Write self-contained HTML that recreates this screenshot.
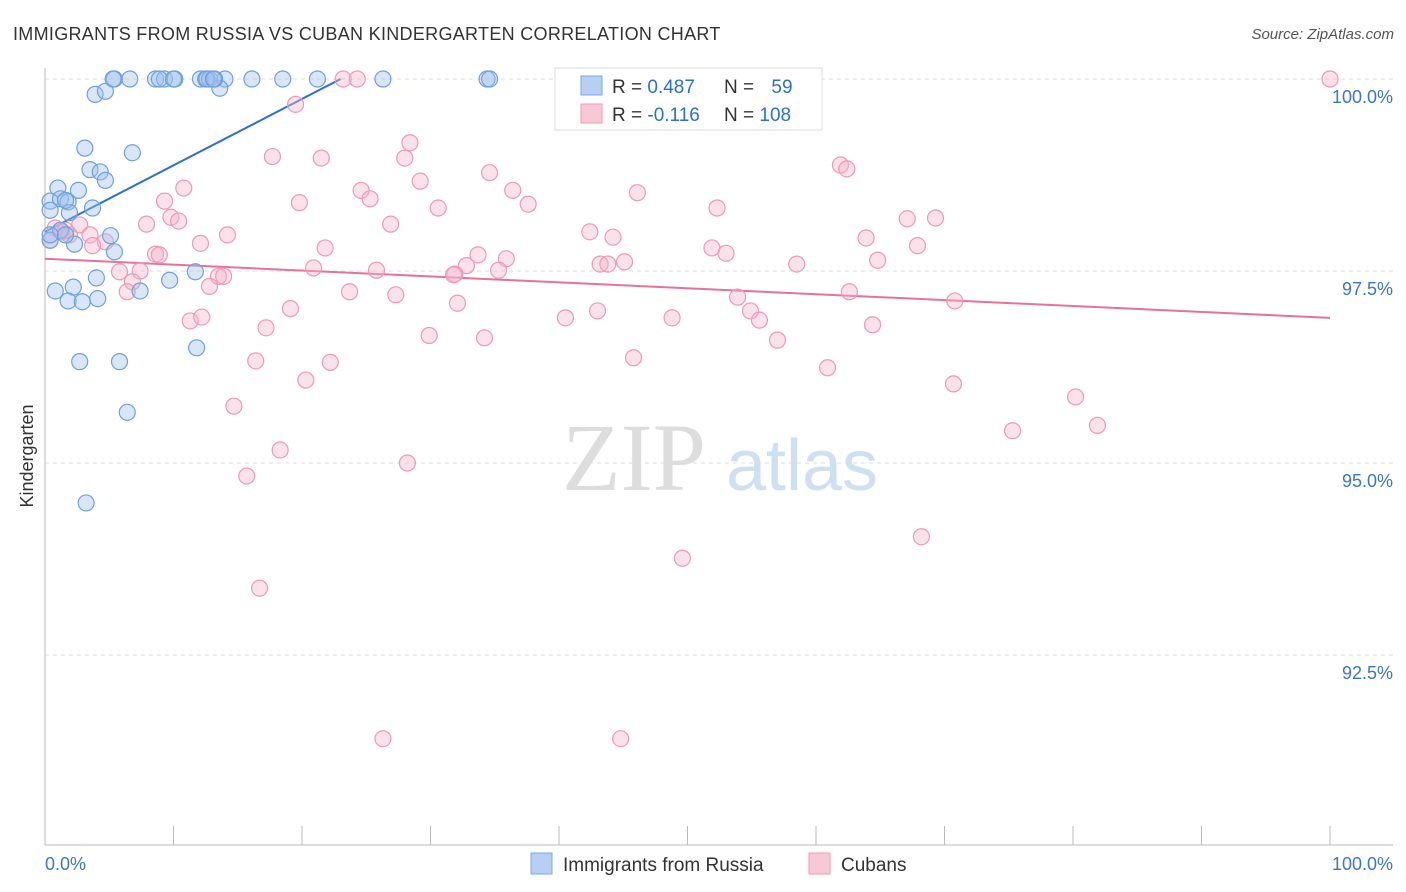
<!DOCTYPE html>
<html><head><meta charset="utf-8">
<style>
body{margin:0;background:#fff;font-family:"Liberation Sans",sans-serif;}
svg{display:block}
</style></head>
<body>
<svg id="chart" width="1406" height="892" viewBox="0 0 1406 892">
<text x="13" y="40" font-size="18" letter-spacing="0.3" fill="#333">IMMIGRANTS FROM RUSSIA VS CUBAN KINDERGARTEN CORRELATION CHART</text>
<text x="1394" y="39" font-size="15" fill="#555" font-style="italic" text-anchor="end">Source: ZipAtlas.com</text>
<text x="0" y="0" transform="translate(33,456) rotate(-90)" font-size="18" fill="#333" text-anchor="middle">Kindergarten</text>
<g>
<text x="634" y="490" font-size="96" fill="#ddd" font-family="Liberation Serif,serif" text-anchor="middle">ZIP</text>
<text x="802" y="490" font-size="72" fill="#cfe0f3" text-anchor="middle">atlas</text>
</g>
<g id="grid"></g>
<g id="axes"></g>
<g id="lines"></g>
<g id="points"></g>
<g>
<rect x="555" y="68" width="267" height="62" fill="#fff" stroke="#ddd"/>
<rect x="581" y="76" width="21" height="19" fill="#b5d0f3" stroke="#7aaae6"/>
<rect x="581" y="104" width="21" height="19" fill="#f9c8d7" stroke="#ec9ab5"/>
<text x="612" y="93" font-size="19" fill="#333">R = <tspan fill="#2a6fd6">0.487</tspan></text>
<text x="724" y="93" font-size="19" fill="#333">N = <tspan fill="#2a6fd6" dx="12">59</tspan></text>
<text x="612" y="121" font-size="19" fill="#333">R = <tspan fill="#2a6fd6">-0.116</tspan></text>
<text x="724" y="121" font-size="19" fill="#333">N = <tspan fill="#2a6fd6">108</tspan></text>
</g>
<g>
<rect x="531" y="853" width="21" height="21" fill="#b5d0f3" stroke="#7aaae6"/>
<text x="563" y="871" font-size="19" fill="#333">Immigrants from Russia</text>
<rect x="809" y="853" width="21" height="21" fill="#f9c8d7" stroke="#ec9ab5"/>
<text x="841" y="871" font-size="19" fill="#333">Cubans</text>
</g>
</svg>
<script>
const yTicks=[100,97.5,95,92.5];
const yTickLabels=["100.0%","97.5%","95.0%","92.5%"];
const xTickCount=[0,10,20,30,40,50,60,70,80,90,100];
const xLabels=["0.0%","100.0%"];
const russiaX=[5.4,6.6,8.6,9.3,10.1,12.1,12.5,12.8,14.0,16.1,18.5,21.2,26.3,34.4,34.6,3.9,4.7,13.6,3.1,6.8,3.5,4.3,4.7,1.0,2.6,0.4,1.2,1.8,3.7,1.9,5.1,0.4,2.3,5.4,11.7,4.0,9.7,0.8,2.2,7.4,1.8,2.9,4.1,2.7,5.8,11.8,6.4,3.2,1.2,0.4,1.6,5.3,8.9,12.6,13.2,13.1,0.4,1.6,10.0];
const russiaY=[100,100,100,100,100,100,100,100,100,100,100,100,100,100,100,99.80,99.84,99.88,99.10,99.04,98.82,98.79,98.68,98.58,98.55,98.41,98.44,98.40,98.32,98.26,97.96,97.90,97.85,97.75,97.49,97.41,97.38,97.24,97.29,97.24,97.11,97.10,97.14,96.32,96.32,96.50,95.66,94.48,98.03,97.97,97.97,100,100,100,100,100,98.29,98.42,100];
const cubaX=[100,23.2,24.3,19.5,28.4,17.7,21.5,28.0,61.9,62.4,34.6,29.2,10.8,36.4,24.6,46.1,9.3,19.8,25.3,37.6,30.6,52.3,9.8,10.4,7.9,26.9,67.1,69.3,2.7,0.8,1.3,3.5,14.2,42.4,44.2,63.9,4.7,3.7,12.1,21.8,51.9,67.9,53.0,8.6,8.9,33.7,35.9,64.8,43.2,45.1,43.8,32.8,58.5,20.9,25.8,31.9,35.3,5.8,7.4,13.5,13.9,31.8,6.8,12.8,6.4,23.7,27.3,53.9,62.6,70.8,32.1,19.1,43.0,40.5,54.9,55.6,11.3,12.2,48.8,64.4,17.2,29.9,34.2,57.0,45.8,16.4,22.2,60.9,20.3,70.7,80.2,14.7,81.9,75.3,18.3,28.2,15.7,68.2,49.6,16.7,26.3,44.8,0.4,1.9,1.6];
const cubaY=[100,100,100,99.67,99.17,98.99,98.97,98.97,98.88,98.83,98.78,98.67,98.58,98.55,98.55,98.52,98.41,98.39,98.44,98.37,98.32,98.32,98.20,98.15,98.11,98.11,98.18,98.19,98.10,98.06,98.01,97.97,97.97,98.01,97.94,97.93,97.88,97.83,97.86,97.80,97.80,97.83,97.73,97.72,97.71,97.71,97.66,97.64,97.59,97.62,97.59,97.57,97.59,97.54,97.51,97.46,97.51,97.49,97.50,97.43,97.43,97.45,97.36,97.30,97.23,97.23,97.19,97.16,97.23,97.11,97.08,97.01,96.98,96.89,96.98,96.86,96.85,96.90,96.89,96.80,96.76,96.66,96.63,96.60,96.37,96.33,96.31,96.24,96.08,96.03,95.86,95.74,95.49,95.42,95.17,95.00,94.83,94.04,93.76,93.37,91.41,91.41,97.90,97.97,98.03];
const russiaTrendX=[0,23];
const russiaTrendY=[98.01,100];
const cubaTrendX=[0,100];
const cubaTrendY=[97.66,96.89];

const NS="http://www.w3.org/2000/svg";
const X=v=>45+v*12.85;
const Y=v=>79+(100-v)*76.8;
function mk(tag,attrs,parent){const e=document.createElementNS(NS,tag);for(const k in attrs)e.setAttribute(k,attrs[k]);parent.appendChild(e);return e;}
const grid=document.getElementById('grid'),axes=document.getElementById('axes'),lines=document.getElementById('lines'),pts=document.getElementById('points');
yTicks.forEach((t,i)=>{
 const l=mk('line',{x1:45,x2:1393,y1:Y(t),y2:Y(t),stroke:'#ddd','stroke-dasharray':'4,4'},grid);
 
 
 const tx=mk('text',{x:1393,y:Y(t)+24,'font-size':18,fill:'#3a75d0','text-anchor':'end'},axes);
 tx.textContent=yTickLabels[i];
 
 
});
let a=mk('line',{x1:45,x2:45,y1:68,y2:845,stroke:'#bbb'},axes);


a=mk('line',{x1:45,x2:1393,y1:845,y2:845,stroke:'#bbb'},axes);


xTickCount.forEach(t=>{
 const l=mk('line',{x1:X(t),x2:X(t),y1:826,y2:845,stroke:'#bbb'},axes);
 
 
});
let t0=mk('text',{x:45,y:870,'font-size':18,fill:'#3a75d0'},axes);t0.textContent=xLabels[0];


let t1=mk('text',{x:1393,y:870,'font-size':18,fill:'#3a75d0','text-anchor':'end'},axes);t1.textContent=xLabels[1];


function dots(xs,ys,fill,stroke,name){xs.forEach((x,i)=>{
 const c=mk('circle',{cx:X(x),cy:Y(ys[i]),r:8,fill:fill,'fill-opacity':0.4,stroke:stroke,'stroke-width':1.2},pts);
 
 
});}
dots(cubaX,cubaY,'#f5b3c8','#ec9ab5','cubans-point');
dots(russiaX,russiaY,'#9ec0ee','#6fa0e0','russia-point');
let l1=mk('line',{x1:X(russiaTrendX[0]),y1:Y(russiaTrendY[0]),x2:X(russiaTrendX[1]),y2:Y(russiaTrendY[1]),stroke:'#2a6fd6','stroke-width':2},lines);


let l2=mk('line',{x1:X(cubaTrendX[0]),y1:Y(cubaTrendY[0]),x2:X(cubaTrendX[1]),y2:Y(cubaTrendY[1]),stroke:'#e8719a','stroke-width':2},lines);


</script>
</body></html>
